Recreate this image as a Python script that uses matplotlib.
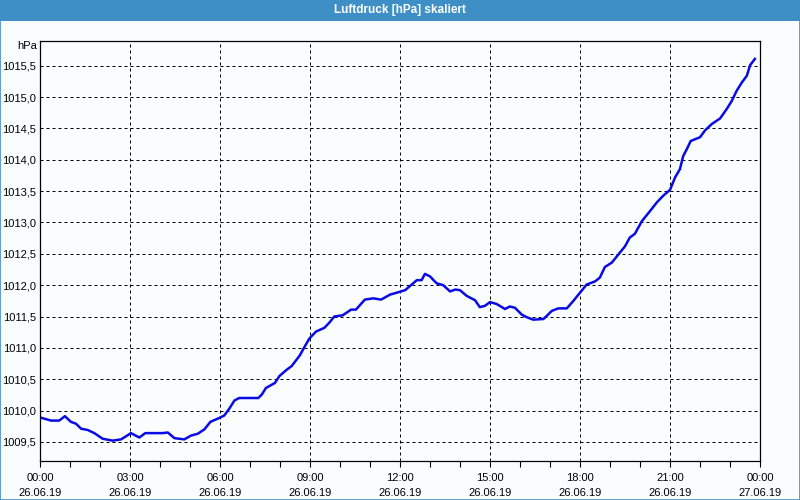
import matplotlib

matplotlib.use("Agg")
import matplotlib.pyplot as plt
from matplotlib.patches import Rectangle
from matplotlib.ticker import FuncFormatter, MultipleLocator

# Stunden seit 26.06.19 00:00
hours = [
    0.0, 0.37, 0.64, 0.83, 1.03, 1.2, 1.37, 1.59, 1.81, 2.09,
    2.42, 2.7, 2.87, 3.03, 3.31, 3.51, 4.09, 4.26, 4.48, 4.81,
    5.03, 5.26, 5.48, 5.68, 5.92, 6.14, 6.31, 6.48, 6.64, 7.28,
    7.4, 7.53, 7.83, 7.98, 8.22, 8.39, 8.66, 8.81, 8.98, 9.2,
    9.48, 9.64, 9.81, 10.09, 10.37, 10.53, 10.83, 11.11, 11.37, 11.67,
    11.89, 12.17, 12.44, 12.56, 12.72, 12.83, 13.0, 13.22, 13.44, 13.67,
    13.84, 14.0, 14.22, 14.5, 14.66, 14.83, 15.0, 15.22, 15.5, 15.66,
    15.83, 16.06, 16.22, 16.44, 16.78, 16.89, 17.06, 17.28, 17.56, 17.78,
    18.0, 18.22, 18.5, 18.66, 18.83, 19.06, 19.28, 19.5, 19.66, 19.83,
    20.06, 20.33, 20.56, 20.78, 21.0, 21.17, 21.33, 21.44, 21.56, 21.69,
    22.0, 22.17, 22.39, 22.67, 22.89, 23.06, 23.22, 23.39, 23.56, 23.67,
    23.83,
]
pressure = [
    1009.89, 1009.84, 1009.84, 1009.91, 1009.82, 1009.79, 1009.71, 1009.69, 1009.64, 1009.55,
    1009.52, 1009.54, 1009.59, 1009.64, 1009.57, 1009.64, 1009.64, 1009.65, 1009.56, 1009.54,
    1009.60, 1009.63, 1009.70, 1009.82, 1009.87, 1009.92, 1010.03, 1010.16, 1010.20, 1010.20,
    1010.26, 1010.36, 1010.44, 1010.55, 1010.65, 1010.71, 1010.88, 1011.01, 1011.15, 1011.26,
    1011.32, 1011.40, 1011.50, 1011.52, 1011.61, 1011.61, 1011.77, 1011.79, 1011.77, 1011.85,
    1011.88, 1011.92, 1012.03, 1012.08, 1012.08, 1012.18, 1012.14, 1012.03, 1012.00, 1011.90,
    1011.93, 1011.92, 1011.83, 1011.76, 1011.65, 1011.67, 1011.73, 1011.70, 1011.62, 1011.66,
    1011.64, 1011.53, 1011.49, 1011.45, 1011.46, 1011.51, 1011.59, 1011.63, 1011.63, 1011.75,
    1011.88, 1012.01, 1012.06, 1012.12, 1012.29, 1012.36, 1012.49, 1012.62, 1012.76, 1012.82,
    1013.02, 1013.18, 1013.32, 1013.43, 1013.52, 1013.72, 1013.85, 1014.06, 1014.17, 1014.30,
    1014.36, 1014.47, 1014.57, 1014.66, 1014.81, 1014.94, 1015.10, 1015.23, 1015.34, 1015.51,
    1015.61,
]
tick_hours = [0, 3, 6, 9, 12, 15, 18, 21, 24]
tick_labels = [
    "00:00\n26.06.19", "03:00\n26.06.19", "06:00\n26.06.19", "09:00\n26.06.19",
    "12:00\n26.06.19", "15:00\n26.06.19", "18:00\n26.06.19", "21:00\n26.06.19",
    "00:00\n27.06.19",
]

plt.rcParams["font.family"] = ["Liberation Sans", "DejaVu Sans"]
bg = "#fafdfd"
bar = "#3d8fc6"

fig = plt.figure(figsize=(8, 5), dpi=100, facecolor=bg)

# Titelleiste und Rahmen
fig.patches.append(Rectangle((0, 0.958), 1, 0.042, transform=fig.transFigure,
                             facecolor=bar, edgecolor="none", zorder=0))
fig.patches.append(Rectangle((0.0006, 0.001), 0.9988, 0.998, transform=fig.transFigure,
                             facecolor="none", edgecolor=bar, linewidth=1.2, zorder=5))
fig.text(0.5, 0.979, "Luftdruck [hPa] skaliert", color="white", fontsize=8.5,
         fontweight="bold", ha="center", va="center")

ax = fig.add_axes([0.05, 0.0786, 0.9, 0.84])
ax.set_facecolor(bg)
ax.plot(hours, pressure, color="#0a0ae6", linewidth=1.8, solid_joinstyle="round")

ax.set_xlim(0, 24)
ax.set_ylim(1009.2, 1015.9)
ax.set_xticks(tick_hours)
ax.set_xticklabels(tick_labels, fontsize=8, linespacing=1.6)
ax.xaxis.set_minor_locator(MultipleLocator(1))
ax.yaxis.set_major_locator(MultipleLocator(0.5))
ax.yaxis.set_major_formatter(FuncFormatter(lambda v, p: f"{v:.1f}".replace(".", ",")))
ax.tick_params(axis="y", length=0, pad=3, labelsize=8)
ax.tick_params(axis="x", which="both", length=4, width=0.8, pad=5, direction="out")
ax.grid(True, which="major", color="black", linewidth=0.72, linestyle=(0, (3, 3)))
for s in ax.spines.values():
    s.set_linewidth(0.9)

fig.text(0.047, 0.908, "hPa", fontsize=8, ha="right", va="center")

fig.savefig("out.png", dpi=100, facecolor=bg)
